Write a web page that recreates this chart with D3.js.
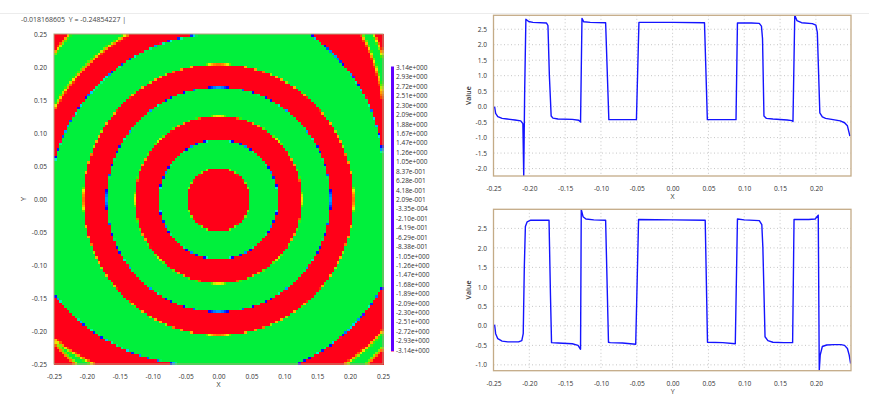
<!DOCTYPE html>
<html>
<head>
<meta charset="utf-8">
<script src="https://cdn.jsdelivr.net/npm/d3@7"></script>
<style>
  html, body { margin: 0; padding: 0; background: #fff; }
  svg { display: block; font-family: "Open Sans", sans-serif; }
</style>
</head>
<body>
<svg id="chart" width="869" height="398"></svg>
<script>
// values
const cursorText = "-0.018168605  Y = -0.24854227 |";

const mapTicks = [-0.25, -0.20, -0.15, -0.10, -0.05, 0.00, 0.05, 0.10, 0.15, 0.20, 0.25];

const colorbarLabels = [
  "3.14e+000", "2.93e+000", "2.72e+000", "2.51e+000", "2.30e+000", "2.09e+000",
  "1.88e+000", "1.67e+000", "1.47e+000", "1.26e+000", "1.05e+000", "8.37e-001",
  "6.28e-001", "4.18e-001", "2.09e-001", "-3.35e-004", "-2.10e-001", "-4.19e-001",
  "-6.29e-001", "-8.38e-001", "-1.05e+000", "-1.26e+000", "-1.47e+000", "-1.68e+000",
  "-1.89e+000", "-2.09e+000", "-2.30e+000", "-2.51e+000", "-2.72e+000", "-2.93e+000",
  "-3.14e+000"
];

// colour map (value -> colour)
const colorValues = [-3.14, -2.93, -2.51, -2.09, -1.68, -1.40, -1.10, -0.80, -0.42, 0.0, 0.42, 0.84, 1.15, 1.40, 1.75, 2.10, 2.40, 2.72, 3.14];
const colorHexes  = ["#6000ff", "#1000ff", "#0028ff", "#0070ff", "#00b8ff", "#00e8e0", "#00f8a0", "#00f060", "#00f03c", "#10f020", "#40f000", "#a0f000", "#f0f000", "#ffc000", "#ff9000", "#ff6000", "#ff3000", "#ff0018", "#ff0060"];

// phase map: value in the centre disk, ring edges (radius), each edge drops the phase by pi
const centerPhase = 2.72;
const ringRadii = [0.048, 0.090, 0.127, 0.170, 0.2055];
// outer bands are not quite circular: [angle in degrees, radius]
const outerBandIn = [[0,0.262],[12,0.256],[35,0.272],[61,0.286],[95,0.251],[135,0.252],[168,0.256],[185,0.266],[210,0.288],[235,0.27],[260,0.254],[295,0.276],[333,0.282],[360,0.262]];
const outerBandOut = [[0,0.29],[31.6,0.294],[48.9,0.332],[61,0.33],[95,0.29],[119,0.286],[151,0.286],[180,0.30],[210,0.325],[220,0.328],[232.8,0.314],[260,0.30],[307.7,0.316],[321,0.32],[360,0.29]];
const cornerEdge = [[0,0.345],[40.7,0.33],[46.4,0.343],[90,0.35],[132,0.337],[138.7,0.333],[180,0.35],[220.7,0.33],[229.3,0.33],[270,0.35],[315,0.335],[360,0.345]];

// line profiles
const profileTicksX = [-0.25, -0.20, -0.15, -0.10, -0.05, 0.00, 0.05, 0.10, 0.15, 0.20];
const topTicksY = [-2.0, -1.5, -1.0, -0.5, 0.0, 0.5, 1.0, 1.5, 2.0, 2.5];
const bottomTicksY = [-1.0, -0.5, 0.0, 0.5, 1.0, 1.5, 2.0, 2.5];

const xProfile = [
  [-0.2485, 0.0], [-0.247, -0.22], [-0.244, -0.32], [-0.238, -0.38], [-0.231, -0.40],
  [-0.220, -0.43], [-0.212, -0.46], [-0.209, -0.55], [-0.2078, -2.24], [-0.2065, 0.5],
  [-0.2048, 2.82], [-0.201, 2.75], [-0.195, 2.72], [-0.176, 2.70], [-0.174, 2.62],
  [-0.172, 1.0], [-0.1695, -0.30], [-0.167, -0.37], [-0.160, -0.40], [-0.140, -0.41],
  [-0.131, -0.44], [-0.1285, -0.50], [-0.1265, 2.85], [-0.124, 2.74], [-0.115, 2.72],
  [-0.0935, 2.71], [-0.089, -0.42], [-0.070, -0.42], [-0.0505, -0.42], [-0.047, 2.72],
  [0.000, 2.72], [0.0445, 2.71], [0.0485, -0.42], [0.070, -0.42], [0.0885, -0.42],
  [0.0905, 2.70], [0.110, 2.70], [0.121, 2.69], [0.124, 2.60], [0.1255, 2.2],
  [0.1275, -0.30], [0.131, -0.38], [0.140, -0.40], [0.160, -0.43], [0.1665, -0.45],
  [0.168, -0.48], [0.1705, 2.95], [0.1735, 2.78], [0.180, 2.71], [0.195, 2.68],
  [0.200, 2.63], [0.202, 2.4], [0.2055, -0.20], [0.209, -0.33], [0.2135, -0.38],
  [0.224, -0.42], [0.234, -0.46], [0.240, -0.52], [0.244, -0.62], [0.2475, -0.95]
];

const yProfile = [
  [-0.2485, 0.03], [-0.247, -0.20], [-0.244, -0.33], [-0.238, -0.39], [-0.230, -0.41],
  [-0.215, -0.41], [-0.2105, -0.38], [-0.2085, -0.2], [-0.2070, 1.5], [-0.2055, 2.55],
  [-0.203, 2.67], [-0.198, 2.71], [-0.1725, 2.71], [-0.1705, 0.8], [-0.169, -0.43],
  [-0.160, -0.44], [-0.140, -0.46], [-0.132, -0.50], [-0.1285, -0.60], [-0.1275, 2.99],
  [-0.125, 2.80], [-0.121, 2.74], [-0.110, 2.72], [-0.0935, 2.71], [-0.0895, -0.42],
  [-0.087, -0.43], [-0.070, -0.44], [-0.0515, -0.47], [-0.0475, 2.73], [0.000, 2.72],
  [0.0455, 2.71], [0.0487, -0.42], [0.070, -0.43], [0.0875, -0.46], [0.0905, 2.74],
  [0.100, 2.72], [0.121, 2.70], [0.1245, 2.60], [0.126, 2.0], [0.129, -0.28],
  [0.133, -0.38], [0.140, -0.42], [0.155, -0.43], [0.1675, -0.43], [0.1695, 2.73],
  [0.190, 2.73], [0.199, 2.74], [0.2033, 2.84], [0.2047, -1.15], [0.2060, -0.75],
  [0.209, -0.53], [0.215, -0.49], [0.225, -0.48], [0.235, -0.48], [0.240, -0.50],
  [0.244, -0.58], [0.2465, -0.75], [0.2485, -0.97]
];

const svg = d3.select("#chart");
const textColor = "#333";
const frameColor = "#c4ab87";
const fmt2 = d => d.toFixed(2);
const fmt1 = d => d.toFixed(1);

// separator and cursor read-out
svg.append("line").attr("x1", 0).attr("x2", 869).attr("y1", 13.5).attr("y2", 13.5)
  .attr("stroke", "#ececec");
svg.append("text").attr("x", 21).attr("y", 19.5).attr("dy", "0.35em")
  .attr("font-size", 7).attr("fill", "#444").style("white-space", "pre")
  .text(cursorText);

// ---------- phase map ----------
const mapX = d3.scaleLinear().domain([-0.25, 0.25]).range([54, 383]);
const mapY = d3.scaleLinear().domain([-0.25, 0.25]).range([364, 34]);
const color = d3.scaleLinear().domain(colorValues).range(colorHexes)
  .interpolate(d3.interpolateRgb).clamp(true);

const bandScale = t => d3.scaleLinear().domain(t.map(d => d[0])).range(t.map(d => d[1]));
const bandIn = bandScale(outerBandIn), bandOut = bandScale(outerBandOut), corner = bandScale(cornerEdge);
const step = (r, R, w) => Math.max(0, Math.min(1, (r - R) / w + 0.5));

function phaseAt(x, y) {
  const r = Math.hypot(x, y);
  let deg = Math.atan2(y, x) * 180 / Math.PI;
  if (deg < 0) deg += 360;
  let p = centerPhase;
  ringRadii.forEach(R => { p -= Math.PI * step(r, R, 0.0016); });
  p -= Math.PI * step(r, bandIn(deg), 0.002);
  p -= Math.PI * step(r, bandOut(deg), 0.007);
  p += Math.PI * step(r, corner(deg), 0.007);
  return p - 2 * Math.PI * Math.round(p / (2 * Math.PI));
}

const N = 128, cell = 0.5 / N;
const cells = [];
for (let i = 0; i < N; i++) {
  for (let j = 0; j < N; j++) {
    const x0 = -0.25 + i * cell, y0 = -0.25 + j * cell;
    cells.push({ x0, y0, v: phaseAt(x0 + cell / 2, y0 + cell / 2) });
  }
}

svg.append("g").attr("shape-rendering", "crispEdges")
  .selectAll("rect").data(cells).join("rect")
  .attr("x", d => mapX(d.x0))
  .attr("y", d => mapY(d.y0 + cell))
  .attr("width", mapX(cell) - mapX(0) + 0.6)
  .attr("height", mapY(0) - mapY(cell) + 0.6)
  .attr("fill", d => color(d.v));

svg.append("rect").attr("x", 54).attr("y", 34).attr("width", 329).attr("height", 330)
  .attr("fill", "none").attr("stroke", "#b8a07a").attr("stroke-width", 1);

function styleAxis(g) {
  g.select(".domain").remove();
  g.selectAll("text").attr("font-size", 6.6).attr("fill", textColor)
    .attr("font-family", "Open Sans, sans-serif");
}

svg.append("g").attr("transform", "translate(0,377)")
  .call(d3.axisBottom(mapX).tickValues(mapTicks).tickFormat(fmt2).tickSize(0).tickPadding(0))
  .call(styleAxis)
  .selectAll("text").attr("y", 0).attr("dy", "0.35em");

svg.append("g").attr("transform", "translate(47,0)")
  .call(d3.axisLeft(mapY).tickValues(mapTicks).tickFormat(fmt2).tickSize(0).tickPadding(0))
  .call(styleAxis);

svg.append("text").attr("x", 218.5).attr("y", 385).attr("dy", "0.35em")
  .attr("text-anchor", "middle").attr("font-size", 7).attr("fill", textColor).text("X");
svg.append("text").attr("transform", "translate(24,199) rotate(-90)").attr("dy", "0.35em")
  .attr("text-anchor", "middle").attr("font-size", 7).attr("fill", textColor).text("Y");

// colour bar
const grad = svg.append("defs").append("linearGradient").attr("id", "cbar")
  .attr("x1", 0).attr("x2", 0).attr("y1", 0).attr("y2", 1);
colorValues.forEach((v, i) => {
  grad.append("stop").attr("offset", (3.14 - v) / 6.28).attr("stop-color", colorHexes[i]);
});
const cbY = d3.scalePoint().domain(colorbarLabels).range([67.7, 350.5]);
svg.append("rect").attr("x", 391).attr("y", 66.5).attr("width", 3).attr("height", 285)
  .attr("fill", "url(#cbar)");
svg.append("g").selectAll("text").data(colorbarLabels).join("text")
  .attr("x", 396).attr("y", d => cbY(d)).attr("dy", "0.35em")
  .attr("font-size", 6.5).attr("fill", textColor).text(d => d);

// ---------- profile plots ----------
function profilePlot(data, top, bottom, yTicks, xTitle) {
  const x = d3.scaleLinear().domain([-0.25, 0.249]).range([493.5, 851]);
  const y = d3.scaleLinear().domain(d3.extent(data, d => d[1])).range([bottom, top]);
  const g = svg.append("g");

  const grid = g.append("g").attr("stroke", "#c6c6c6").attr("stroke-dasharray", "1,2.5");
  grid.selectAll("line.v").data(profileTicksX.slice(1)).join("line").attr("class", "v")
    .attr("x1", d => x(d)).attr("x2", d => x(d)).attr("y1", top).attr("y2", bottom);
  grid.selectAll("line.h").data(yTicks).join("line").attr("class", "h")
    .attr("x1", x.range()[0]).attr("x2", x.range()[1]).attr("y1", d => y(d)).attr("y2", d => y(d));

  const clipId = "clip" + Math.round(top);
  g.append("clipPath").attr("id", clipId).append("rect")
    .attr("x", x.range()[0]).attr("y", top).attr("width", x.range()[1] - x.range()[0]).attr("height", bottom - top);

  g.append("path").datum(data)
    .attr("clip-path", `url(#${clipId})`)
    .attr("fill", "none").attr("stroke", "#1414ff").attr("stroke-width", 1.4)
    .attr("stroke-linejoin", "round")
    .attr("d", d3.line().x(d => x(d[0])).y(d => y(d[1])));

  g.append("rect").attr("x", x.range()[0]).attr("y", top)
    .attr("width", x.range()[1] - x.range()[0]).attr("height", bottom - top)
    .attr("fill", "none").attr("stroke", frameColor).attr("stroke-width", 1.3);

  g.append("g").attr("transform", `translate(0,${bottom + 13})`)
    .call(d3.axisBottom(x).tickValues(profileTicksX).tickFormat(fmt2).tickSize(0).tickPadding(0))
    .call(styleAxis)
    .selectAll("text").attr("y", 0).attr("dy", "0.35em");

  g.append("g").attr("transform", "translate(487,0)")
    .call(d3.axisLeft(y).tickValues(yTicks).tickFormat(fmt1).tickSize(0).tickPadding(0))
    .call(styleAxis);

  g.append("text").attr("x", x(0)).attr("y", bottom + 21).attr("dy", "0.35em")
    .attr("text-anchor", "middle").attr("font-size", 7).attr("fill", textColor).text(xTitle);
  g.append("text").attr("transform", `translate(469,${(top + bottom) / 2}) rotate(-90)`)
    .attr("dy", "0.35em").attr("text-anchor", "middle").attr("font-size", 7)
    .attr("font-weight", 600).attr("fill", textColor).text("Value");
}

profilePlot(xProfile, 15.3, 176, topTicksY, "X");
profilePlot(yProfile, 209.3, 370.7, bottomTicksY, "Y");
</script>
</body>
</html>
